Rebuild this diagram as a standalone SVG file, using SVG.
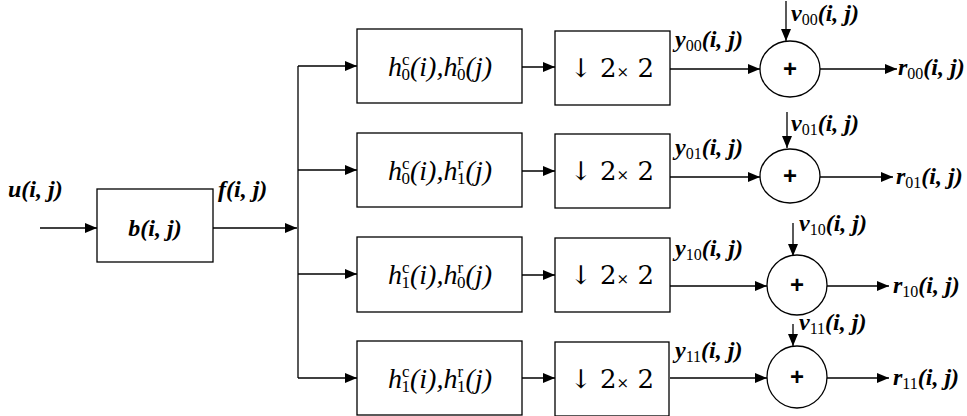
<svg xmlns="http://www.w3.org/2000/svg" width="967" height="416" viewBox="0 0 967 416">
<style>
.box{fill:#fff;stroke:#000;stroke-width:1.3}
.ln{fill:none;stroke:#000;stroke-width:1.3}
.arr{fill:none;stroke:#000;stroke-width:1.3;marker-end:url(#ah)}
.lab{font-family:"Liberation Serif",serif;font-style:italic;font-weight:bold;font-size:24px;fill:#000}
.flt{font-family:"Liberation Serif",serif;font-style:italic;font-size:28px;fill:#000}
.ds{font-family:"DejaVu Serif",serif;font-size:26px;fill:#000}
.sub{font-style:normal;font-weight:normal;font-size:16px}
.fs{font-style:normal;font-size:17px}
.plus{font-family:"Liberation Sans",sans-serif;font-weight:bold;font-size:24px;fill:#000}
</style>
<defs>
<marker id="ah" markerUnits="userSpaceOnUse" markerWidth="12" markerHeight="10" refX="12" refY="5" orient="auto">
<path d="M0,0 L12,5 L0,10 Z" fill="#000"/>
</marker>
</defs>
<g id="connectors">
<line class="arr" x1="40" y1="228" x2="97" y2="228"/>
<line class="arr" x1="213" y1="228" x2="297" y2="228"/>
<line class="ln" x1="298" y1="66" x2="298" y2="378"/>
<line class="arr" x1="298" y1="66" x2="357" y2="66"/>
<line class="arr" x1="298" y1="170" x2="357" y2="170"/>
<line class="arr" x1="298" y1="274" x2="357" y2="274"/>
<line class="arr" x1="298" y1="378" x2="357" y2="378"/>
<line class="arr" x1="522" y1="67" x2="555" y2="67"/>
<line class="arr" x1="522" y1="171" x2="555" y2="171"/>
<line class="arr" x1="522" y1="275" x2="555" y2="275"/>
<line class="arr" x1="522" y1="378" x2="555" y2="378"/>
<line class="arr" x1="670" y1="69" x2="760" y2="69"/>
<line class="arr" x1="670" y1="177" x2="760" y2="177"/>
<line class="arr" x1="670" y1="286" x2="767" y2="286"/>
<line class="arr" x1="670" y1="378" x2="767" y2="378"/>
<line class="arr" x1="786" y1="1" x2="786" y2="41"/>
<line class="arr" x1="787" y1="112" x2="787" y2="148"/>
<line class="arr" x1="793" y1="223" x2="793" y2="256"/>
<line class="arr" x1="793" y1="324" x2="793" y2="346"/>
<line class="arr" x1="820" y1="69" x2="897" y2="69"/>
<line class="arr" x1="820" y1="177" x2="893" y2="177"/>
<line class="arr" x1="827" y1="286" x2="889" y2="286"/>
<line class="arr" x1="827" y1="378" x2="889" y2="378"/>
</g>
<g id="in-label"><text class="lab" x="8" y="197" font-size="26">u(i, j)</text></g>
<g id="blur">
<rect class="box" x="97" y="189" width="116" height="73"/>
<text class="lab" x="155" y="236" text-anchor="middle" font-size="27">b(i, j)</text>
</g>
<g id="f-label"><text class="lab" x="218" y="197" font-size="26">f(i, j)</text></g>
<g id="filter00">
<rect class="box" x="357" y="29" width="165" height="74"/>
<text class="flt" x="440" y="76" text-anchor="middle">h<tspan class="fs" dy="-11">c</tspan><tspan class="fs" dx="-8" dy="15">0</tspan><tspan dy="-4">(i),h</tspan><tspan class="fs" dy="-11">r</tspan><tspan class="fs" dx="-6" dy="15">0</tspan><tspan dy="-4">(j)</tspan></text>
</g>
<g id="filter01">
<rect class="box" x="357" y="133" width="165" height="74"/>
<text class="flt" x="440" y="180" text-anchor="middle">h<tspan class="fs" dy="-11">c</tspan><tspan class="fs" dx="-8" dy="15">0</tspan><tspan dy="-4">(i),h</tspan><tspan class="fs" dy="-11">r</tspan><tspan class="fs" dx="-6" dy="15">1</tspan><tspan dy="-4">(j)</tspan></text>
</g>
<g id="filter10">
<rect class="box" x="357" y="237" width="165" height="75"/>
<text class="flt" x="440" y="284" text-anchor="middle">h<tspan class="fs" dy="-11">c</tspan><tspan class="fs" dx="-8" dy="15">1</tspan><tspan dy="-4">(i),h</tspan><tspan class="fs" dy="-11">r</tspan><tspan class="fs" dx="-6" dy="15">0</tspan><tspan dy="-4">(j)</tspan></text>
</g>
<g id="filter11">
<rect class="box" x="357" y="341" width="165" height="74"/>
<text class="flt" x="440" y="388" text-anchor="middle">h<tspan class="fs" dy="-11">c</tspan><tspan class="fs" dx="-8" dy="15">1</tspan><tspan dy="-4">(i),h</tspan><tspan class="fs" dy="-11">r</tspan><tspan class="fs" dx="-6" dy="15">1</tspan><tspan dy="-4">(j)</tspan></text>
</g>
<g id="down00">
<rect class="box" x="555" y="31" width="115" height="74"/>
<text class="ds" x="612" y="77" text-anchor="middle">↓ 2<tspan font-size="15">×</tspan> 2</text>
</g>
<g id="down01">
<rect class="box" x="555" y="134" width="115" height="74"/>
<text class="ds" x="612" y="180" text-anchor="middle">↓ 2<tspan font-size="15">×</tspan> 2</text>
</g>
<g id="down10">
<rect class="box" x="555" y="238" width="115" height="74"/>
<text class="ds" x="612" y="284" text-anchor="middle">↓ 2<tspan font-size="15">×</tspan> 2</text>
</g>
<g id="down11">
<rect class="box" x="555" y="342" width="114" height="74"/>
<text class="ds" x="612" y="388" text-anchor="middle">↓ 2<tspan font-size="15">×</tspan> 2</text>
</g>
<g id="sum00">
<ellipse class="box" cx="790" cy="69" rx="30" ry="28"/>
<text class="plus" x="790" y="77" text-anchor="middle">+</text>
</g>
<g id="sum01">
<ellipse class="box" cx="790" cy="176" rx="30" ry="27"/>
<text class="plus" x="790" y="184" text-anchor="middle">+</text>
</g>
<g id="sum10">
<ellipse class="box" cx="797" cy="285" rx="30" ry="30"/>
<text class="plus" x="797" y="293" text-anchor="middle">+</text>
</g>
<g id="sum11">
<ellipse class="box" cx="797" cy="377" rx="30" ry="31"/>
<text class="plus" x="797" y="385" text-anchor="middle">+</text>
</g>
<g id="labels">
<text class="lab" x="675" y="47">y<tspan class="sub" dy="4">00</tspan><tspan dy="-4">(i, j)</tspan></text>
<text class="lab" x="675" y="155">y<tspan class="sub" dy="4">01</tspan><tspan dy="-4">(i, j)</tspan></text>
<text class="lab" x="675" y="256">y<tspan class="sub" dy="4">10</tspan><tspan dy="-4">(i, j)</tspan></text>
<text class="lab" x="675" y="358">y<tspan class="sub" dy="4">11</tspan><tspan dy="-4">(i, j)</tspan></text>
<text class="lab" x="791" y="21">v<tspan class="sub" dy="4">00</tspan><tspan dy="-4">(i, j)</tspan></text>
<text class="lab" x="791" y="131">v<tspan class="sub" dy="4">01</tspan><tspan dy="-4">(i, j)</tspan></text>
<text class="lab" x="799" y="231">v<tspan class="sub" dy="4">10</tspan><tspan dy="-4">(i, j)</tspan></text>
<text class="lab" x="799" y="330">v<tspan class="sub" dy="4">11</tspan><tspan dy="-4">(i, j)</tspan></text>
<text class="lab" x="898" y="75" font-size="23">r<tspan class="sub" dy="4">00</tspan><tspan dy="-4">(i, j)</tspan></text>
<text class="lab" x="896" y="184" font-size="23">r<tspan class="sub" dy="4">01</tspan><tspan dy="-4">(i, j)</tspan></text>
<text class="lab" x="893" y="293" font-size="23">r<tspan class="sub" dy="4">10</tspan><tspan dy="-4">(i, j)</tspan></text>
<text class="lab" x="893" y="385" font-size="23">r<tspan class="sub" dy="4">11</tspan><tspan dy="-4">(i, j)</tspan></text>
</g>
</svg>
